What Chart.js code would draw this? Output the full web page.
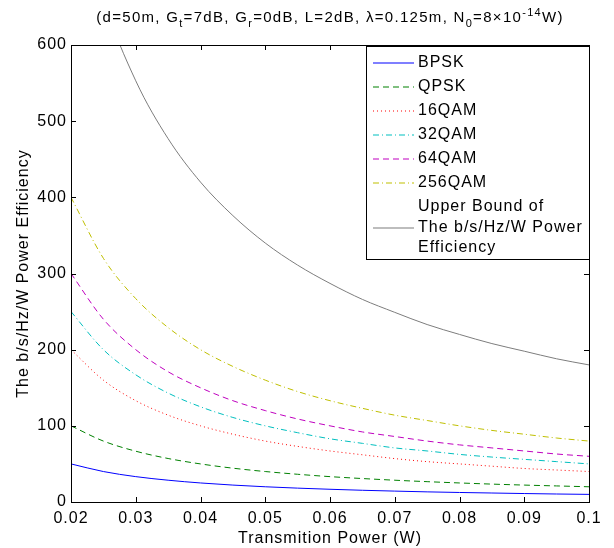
<!DOCTYPE html>
<html>
<head>
<meta charset="utf-8">
<script src="https://cdn.jsdelivr.net/npm/chart.js@4/dist/chart.umd.min.js"></script>
<style>
  html, body { margin: 0; padding: 0; background: #fff; }
  #wrap { width: 614px; height: 548px; position: relative; }
</style>
</head>
<body>
<div id="wrap"><canvas id="c"></canvas></div>
<script>
// Potencia de transmisión (W)
const power = [0.02, 0.025, 0.03, 0.035, 0.04, 0.045, 0.05, 0.055, 0.06, 0.065, 0.07, 0.075, 0.08, 0.085, 0.09, 0.095, 0.1];

// Eficiencia b/s/Hz/W
const bpsk   = [50, 40, 33.3, 28.6, 25, 22.2, 20, 18.2, 16.7, 15.4, 14.3, 13.3, 12.5, 11.8, 11.1, 10.5, 10];
const qpsk   = [100, 80, 66.7, 57.1, 50, 44.4, 40, 36.4, 33.3, 30.8, 28.6, 26.7, 25, 23.5, 22.2, 21.1, 20];
const qam16  = [200, 160, 133, 114, 100, 89, 80, 73, 67, 62, 57, 53, 50, 47, 44, 42, 40];
const qam32  = [250, 200, 167, 143, 125, 111, 100, 91, 83, 77, 71, 67, 62.5, 59, 56, 53, 50];
const qam64  = [300, 240, 200, 171, 150, 133, 120, 109, 100, 92, 86, 80, 75, 71, 67, 63, 60];
const qam256 = [400, 320, 267, 229, 200, 178, 160, 145, 133, 123, 114, 107, 100, 94, 89, 84, 80];
const upper  = [820, 660, 553, 477, 420, 376, 340, 311, 287, 266, 249, 233, 220, 208, 198, 188, 180];

const seriesNames = ['BPSK', 'QPSK', '16QAM', '32QAM', '64QAM', '256QAM',
  ['Upper Bound of', 'The b/s/Hz/W Power', 'Efficiency']];

const FONT = '"Liberation Sans", Arial, Helvetica, sans-serif';

function toXY(vals) {
  return vals.map((v, i) => ({ x: power[i], y: v }));
}

function makeSet(label, vals, color, dash) {
  return {
    label: label,
    data: toXY(vals),
    borderColor: color,
    backgroundColor: color,
    borderWidth: 1,
    borderDash: dash,
    pointRadius: 0,
    cubicInterpolationMode: 'monotone',
    fill: false
  };
}

const datasets = [
  makeSet(seriesNames[0], bpsk,   '#0000ff', []),
  makeSet(seriesNames[1], qpsk,   '#008000', [6, 4]),
  makeSet(seriesNames[2], qam16,  '#ff0000', [1, 3]),
  makeSet(seriesNames[3], qam32,  '#00bfbf', [6, 3, 1, 3]),
  makeSet(seriesNames[4], qam64,  '#bf00bf', [6, 4]),
  makeSet(seriesNames[5], qam256, '#bfbf00', [6, 3, 1, 3]),
  makeSet(seriesNames[6], upper,  '#7d7d7d', [])
];

// Espaciado de letras para imitar el texto ancho de MATLAB
const spacing = {
  id: 'spacing',
  beforeDraw(chart) { chart.ctx.letterSpacing = '1px'; }
};

// Marco del área, marcas interiores, título con subíndices y leyenda tipo MATLAB
const matlabLook = {
  id: 'matlabLook',
  afterDraw(chart) {
    const ctx = chart.ctx;
    const a = chart.chartArea;
    const xs = chart.scales.x, ys = chart.scales.y;
    ctx.save();
    ctx.strokeStyle = '#000';
    ctx.lineWidth = 1;
    ctx.setLineDash([]);
    ctx.strokeRect(Math.round(a.left) + 0.5, Math.round(a.top) + 0.5,
      Math.round(a.right - a.left), Math.round(a.bottom - a.top));
    const tl = 5;
    ctx.beginPath();
    xs.ticks.forEach(t => {
      const px = Math.round(xs.getPixelForValue(t.value)) + 0.5;
      ctx.moveTo(px, a.bottom); ctx.lineTo(px, a.bottom - tl);
      ctx.moveTo(px, a.top); ctx.lineTo(px, a.top + tl);
    });
    ys.ticks.forEach(t => {
      const py = Math.round(ys.getPixelForValue(t.value)) + 0.5;
      ctx.moveTo(a.left, py); ctx.lineTo(a.left + tl, py);
      ctx.moveTo(a.right, py); ctx.lineTo(a.right - tl, py);
    });
    ctx.stroke();

    // Título
    const parts = [
      ['(d=50m, G', 0], ['t', 1], ['=7dB, G', 0], ['r', 1], ['=0dB, L=2dB, \u03bb=0.125m, N', 0],
      ['0', 1], ['=8\u00d710', 0], ['-14', -1], ['W)', 0]
    ];
    const big = '15px ' + FONT, small = '11px ' + FONT;
    ctx.letterSpacing = '1.3px';
    let total = 0;
    parts.forEach(p => { ctx.font = p[1] ? small : big; total += ctx.measureText(p[0]).width; });
    let x = (a.left + a.right) / 2 - total / 2;
    const base = 22;
    ctx.fillStyle = '#000';
    ctx.textBaseline = 'alphabetic';
    ctx.textAlign = 'left';
    parts.forEach(p => {
      ctx.font = p[1] ? small : big;
      const dy = p[1] === 1 ? 5 : (p[1] === -1 ? -6 : 0);
      ctx.fillText(p[0], x, base + dy);
      x += ctx.measureText(p[0]).width;
    });

    // Leyenda
    ctx.letterSpacing = '1px';
    const box = { left: 366, top: 46, right: Math.round(a.right), bottom: 259 };
    ctx.fillStyle = '#fff';
    ctx.fillRect(box.left, box.top, box.right - box.left, box.bottom - box.top);
    ctx.strokeStyle = '#000';
    ctx.strokeRect(box.left + 0.5, box.top + 0.5, box.right - box.left, box.bottom - box.top);
    ctx.font = '16px ' + FONT;
    ctx.textBaseline = 'middle';
    let y = 63;
    chart.data.datasets.forEach(ds => {
      const lines = Array.isArray(ds.label) ? ds.label : [ds.label];
      const lineY = Math.round(y + (lines.length - 1) * 20.5 / 2);
      ctx.strokeStyle = ds.borderColor;
      ctx.lineWidth = 1.2;
      ctx.setLineDash(ds.borderDash || []);
      ctx.beginPath();
      ctx.moveTo(373, lineY);
      ctx.lineTo(414, lineY);
      ctx.stroke();
      ctx.setLineDash([]);
      ctx.fillStyle = '#000';
      lines.forEach((ln, k) => ctx.fillText(ln, 418, y + k * 20.5));
      y += 24 + (lines.length - 1) * 20.5;
    });
    ctx.restore();
  }
};

new Chart(document.getElementById('c'), {
  type: 'line',
  data: { datasets: datasets },
  options: {
    responsive: true,
    maintainAspectRatio: false,
    animation: false,
    layout: { padding: { top: 45, right: 25, left: 0, bottom: 0 } },
    plugins: {
      legend: { display: false },
      tooltip: { enabled: false },
      title: { display: false }
    },
    scales: {
      x: {
        type: 'linear',
        min: 0.02,
        max: 0.1,
        ticks: {
          stepSize: 0.01,
          color: '#000',
          font: { family: FONT, size: 16 },
          padding: 7,
          maxRotation: 0,
          callback: v => String(Number(v.toFixed(2)))
        },
        grid: { display: false, drawTicks: false },
        border: { display: false },
        title: {
          display: true,
          text: 'Transmition Power (W)',
          color: '#000',
          font: { family: FONT, size: 16 },
          padding: { top: 2, bottom: 0 }
        },
        afterFit: s => { s.height = 46; }
      },
      y: {
        min: 0,
        max: 600,
        ticks: {
          stepSize: 100,
          color: '#000',
          font: { family: FONT, size: 16 },
          padding: 4
        },
        grid: { display: false, drawTicks: false },
        border: { display: false },
        title: {
          display: true,
          text: 'The b/s/Hz/W Power Efficiency',
          color: '#000',
          font: { family: FONT, size: 16 },
          padding: { top: 14, bottom: 4 }
        },
        afterFit: s => { s.width = 71; }
      }
    }
  },
  plugins: [spacing, matlabLook]
});
</script>
</body>
</html>
